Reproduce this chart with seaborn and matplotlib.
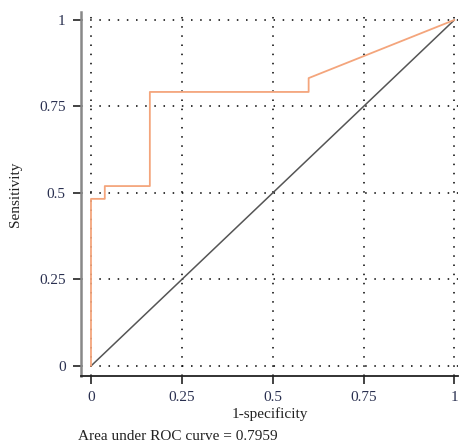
import matplotlib
matplotlib.use("Agg")
import pandas as pd
import matplotlib.pyplot as plt
import seaborn as sns

sns.set_style("white")
plt.rcParams["font.family"] = ["Liberation Serif", "DejaVu Serif"]

# ROC curve
fpr = [0.0, 0.0, 0.038, 0.038, 0.162, 0.162, 0.599, 0.599, 1.0]
tpr = [0.0, 0.483, 0.483, 0.52, 0.52, 0.792, 0.792, 0.832, 1.0]
ticks = [0, 0.25, 0.5, 0.75, 1]
tick_labels = ["0", "0.25", "0.5", "0.75", "1"]
auc = 0.7959

roc = pd.DataFrame({"fpr": fpr, "tpr": tpr})
diag = pd.DataFrame({"x": [0, 1], "y": [0, 1]})

fig = plt.figure(figsize=(4.62, 4.45), dpi=100)
ax = fig.add_axes([0.1753, 0.155, 0.816, 0.818])

for t in ticks:
    ax.axvline(t, color="black", linestyle=(0, (1, 5)), linewidth=1.1, zorder=1)
    ax.axhline(t, color="black", linestyle=(0, (1, 5)), linewidth=1.1, zorder=1)

sns.lineplot(data=diag, x="x", y="y", color="#555555", linewidth=1.1, ax=ax, zorder=2)
sns.lineplot(data=roc, x="fpr", y="tpr", sort=False, estimator=None,
             color="#f4a57c", linewidth=1.3, ax=ax, zorder=3)

ax.set_xlim(-0.0275, 1.01)
ax.set_ylim(-0.029, 1.023)
ax.set_xticks(ticks)
ax.set_xticklabels(tick_labels)
ax.set_yticks(ticks)
ax.set_yticklabels(tick_labels)
ax.tick_params(axis="both", direction="out", length=6, width=1.2, color="#222222",
               labelsize=11, labelcolor="#2a3050", bottom=True, left=True, pad=5)

for side in ["top", "right"]:
    ax.spines[side].set_visible(False)
ax.spines["left"].set_color("#888888")
ax.spines["left"].set_linewidth(1.8)
ax.spines["bottom"].set_color("#222222")
ax.spines["bottom"].set_linewidth(1.3)

ax.set_xlabel("1-specificity", fontsize=11, color="#222222", labelpad=2)
ax.set_ylabel("Sensitivity", fontsize=11, color="#222222", labelpad=12)

fig.text(78 / 462, 1 - 437 / 445, f"Area under ROC curve = {auc}", fontsize=11,
         color="#222222", ha="left", va="center")

fig.savefig("out.png", dpi=100)
